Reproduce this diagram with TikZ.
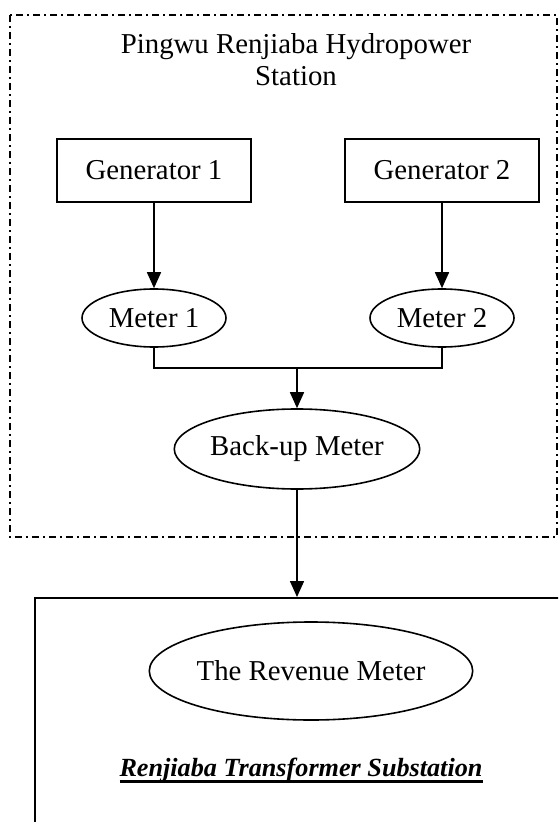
\documentclass[tikz,border=0pt]{standalone}
\usepackage{fontspec}
\setmainfont{Liberation Serif}
\usetikzlibrary{arrows.meta,shapes.geometric}
\newcommand{\heavyul}[1]{\setbox0\hbox{#1}\rlap{\rule[-3.6pt]{\wd0}{1.4pt}}\box0}

\begin{document}
\begin{tikzpicture}[x=0.5pt, y=-0.5pt,
  every node/.style={font=\fontsize{14.4}{16}\selectfont, line width=0.8pt},
  genbox/.style={draw, rectangle, minimum width=97pt, minimum height=31.5pt, inner sep=0pt},
  meterell/.style={draw, ellipse, inner sep=0pt},
  flow/.style={line width=0.8pt, -{Triangle[length=8pt, width=7pt]}}]
\useasboundingbox (0,0) rectangle (558,822);
\clip (0,0) rectangle (558,822);

% Draw the station boundary
\draw[line width=0.8pt, dash pattern=on 3.5pt off 2pt on 0.8pt off 2.2pt] (10,15) rectangle (557,537);
\node[align=center, anchor=north, inner sep=0pt] (title) at (296,33) {Pingwu Renjiaba Hydropower\\Station};

% Draw generators and meters
\node[genbox] (gen1) at (154,170.5) {Generator 1};
\node[genbox] (gen2) at (442,170.5) {Generator 2};
\node[meterell, minimum width=72pt, minimum height=29pt] (met1) at (154,318) {Meter 1};
\node[meterell, minimum width=72pt, minimum height=29pt] (met2) at (442,318) {Meter 2};
\node[meterell, minimum width=120pt, minimum height=40pt] (backup) at (297,449) {Back-up Meter};

% Draw the substation
\node[draw, rectangle, minimum width=283pt, minimum height=126.5pt, anchor=north west, inner sep=0pt] (subst) at (34,597) {};
\node[meterell, minimum width=146pt, minimum height=49pt] (revenue) at (311,671) {The Revenue Meter};
\node[anchor=base, font=\fontsize{13.1}{15}\selectfont] (substlabel) at (301,776) {\heavyul{\textbf{\textit{Renjiaba Transformer Substation}}}};

% Draw connectors
\draw[flow] (gen1) -- (met1);
\draw[flow] (gen2) -- (met2);
\coordinate (join) at (297,368);
\draw[line width=0.8pt] (met1) |- (join) -| (met2);
\draw[flow] (join) -- (backup);
\draw[flow] (backup) -- (backup.south |- subst.north);
\end{tikzpicture}
\end{document}
